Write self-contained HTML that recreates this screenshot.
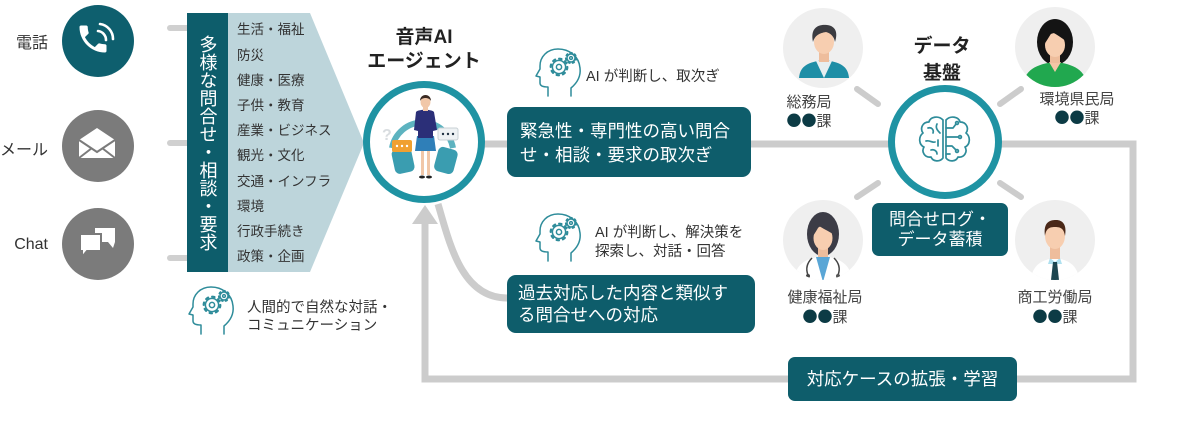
<!DOCTYPE html>
<html><head><meta charset="utf-8">
<style>
html,body{margin:0;padding:0;background:#fff;}
#c{position:relative;width:1200px;height:436px;overflow:hidden;background:#fff;font-family:"Liberation Sans","Noto Sans CJK JP",sans-serif;color:#333;}
.t{position:absolute;white-space:nowrap;}
.d{font-family:"Noto Sans CJK JP",sans-serif;color:#0c3b45;}
svg{position:absolute;left:0;top:0;}
</style></head><body>
<div id="c">
<svg width="1200" height="436" viewBox="0 0 1200 436" xmlns="http://www.w3.org/2000/svg">
<defs>
  <g id="hg" fill="none" stroke="#2e8c9a" stroke-width="1.5" stroke-linejoin="round" stroke-linecap="round">
    <path d="M36 50 L36 42 C42 37 46 30 45 22 C44 10 34 3 23 3 C12 3 5 11 5 20 L5 23 L1 30 L5 31 L5 37 C5 40 8 41 13 41 L13 50"/>
    <circle cx="24" cy="21" r="8.3" stroke-width="2.2" stroke-dasharray="2.4 4.1"/>
    <circle cx="24" cy="21" r="6.6"/>
    <circle cx="24" cy="21" r="2.6"/>
    <circle cx="36" cy="12" r="5.2" stroke-width="1.8" stroke-dasharray="1.8 2.9"/>
    <circle cx="36" cy="12" r="4"/>
    <circle cx="36" cy="12" r="1.4"/>
  </g>
  <clipPath id="a1"><circle cx="823" cy="48" r="40"/></clipPath>
  <clipPath id="a2"><circle cx="1055" cy="47" r="40"/></clipPath>
  <clipPath id="a3"><circle cx="823" cy="240" r="40"/></clipPath>
  <clipPath id="a4"><circle cx="1055" cy="240" r="40"/></clipPath>
</defs>

<!-- channel circles -->
<circle cx="98" cy="41" r="36" fill="#0e5f6e"/>
<circle cx="98" cy="146" r="36" fill="#7b7b7b"/>
<circle cx="98" cy="244" r="36" fill="#7b7b7b"/>
<!-- phone -->
<g transform="translate(75,21) scale(1.5)">
  <path fill="#fff" d="M6.62 10.790c1.44 2.83 3.76 5.14 6.59 6.59l2.2-2.2c.27-.27.67-.36 1.020-.24 1.12.37 2.33.57 3.57.57.55 0 1 .45 1 1V20c0 .55-.45 1-1 1-9.39 0-17-7.61-17-17 0-.55.45-1 1-1h3.5c.55 0 1 .45 1 1 0 1.25.2 2.45.57 3.57.11.35.03.74-.25 1.02l-2.2 2.2z"/>
</g>
<path d="M98 31 A9 9 0 0 1 106 40" fill="none" stroke="#fff" stroke-width="2.6" stroke-linecap="round"/>
<path d="M100 24 A15 15 0 0 1 113 39" fill="none" stroke="#fff" stroke-width="2.6" stroke-linecap="round"/>
<!-- envelope -->
<path d="M79 140 L97 128 L115 140 L115 158 L79 158 Z" fill="#fff"/>
<path d="M79 140 L97 152 L115 140 M79 158 L92 148 M115 158 L102 148" fill="none" stroke="#7b7b7b" stroke-width="2"/>
<!-- chat -->
<path d="M95 228 H115 V242 L113 248 L108 242 H95 Z" fill="#fff"/>
<path d="M80 234 H101 V251 H87 L82 257 L82 251 H80 Z" fill="#fff" stroke="#7b7b7b" stroke-width="2"/>

<!-- stubs -->
<g stroke="#d0d0d0" stroke-width="6" stroke-linecap="round">
  <line x1="170" y1="28" x2="190" y2="28"/>
  <line x1="170" y1="143" x2="190" y2="143"/>
  <line x1="170" y1="258" x2="190" y2="258"/>
</g>
<!-- chevron panel -->
<polygon points="228,13 310,13 364,143 310,272 228,272" fill="#bdd5db"/>
<rect x="187" y="13" width="41" height="259" fill="#0d5d6b"/>

<!-- gray connectors -->
<g fill="none" stroke="#cccccc" stroke-width="7">
  <path d="M424 144 H945"/>
  <path d="M945 144 H1133 V379 H425 V220"/>
  <path d="M438 204 C450 245 462 298 507 298"/>
</g>
<polygon points="412,224 438,224 425,205" fill="#cccccc"/>
<g stroke="#cccccc" stroke-width="6" stroke-linecap="round">
  <line x1="857" y1="89" x2="878" y2="104"/>
  <line x1="1000" y1="104" x2="1021" y2="89"/>
  <line x1="857" y1="197" x2="878" y2="183"/>
  <line x1="1000" y1="183" x2="1021" y2="197"/>
</g>

<!-- agent circle -->
<circle cx="424" cy="142" r="57.5" fill="#fff" stroke="#1f93a3" stroke-width="7"/>
<path d="M392 148 A31 31 0 0 1 453 148" fill="none" stroke="#5db3c0" stroke-width="6"/>
<text x="382" y="140" font-family="Liberation Sans, sans-serif" font-size="16" font-weight="bold" fill="#d9dde0">?</text>
<rect x="393" y="148" width="20" height="25" rx="5" fill="#3a9db0" transform="rotate(-12 403 160)"/>
<rect x="436" y="148" width="20" height="25" rx="5" fill="#3a9db0" transform="rotate(15 446 160)"/>
<rect x="392" y="140" width="20" height="12" rx="2" fill="#f0a030"/>
<circle cx="397" cy="146" r="1.2" fill="#fff"/><circle cx="402" cy="146" r="1.2" fill="#fff"/><circle cx="407" cy="146" r="1.2" fill="#fff"/>
<rect x="438" y="128" width="20" height="12" rx="2" fill="#eef2f4" stroke="#c8d0d4" stroke-width="1"/>
<circle cx="443" cy="134" r="1.2" fill="#234"/><circle cx="448" cy="134" r="1.2" fill="#234"/><circle cx="453" cy="134" r="1.2" fill="#234"/>
<!-- woman -->
<rect x="421" y="148" width="3" height="27" fill="#f1c7a8"/>
<rect x="427" y="148" width="3" height="27" fill="#f1c7a8"/>
<ellipse cx="422" cy="177" rx="3" ry="1.5" fill="#222"/>
<ellipse cx="429" cy="177" rx="3" ry="1.5" fill="#222"/>
<path d="M417 136 L434 136 L436 151 L415 151 Z" fill="#2f7fb8"/>
<path d="M416 112 C418 109 432 109 434 112 L437 130 L433 131 L433 138 L418 138 L418 131 L414 130 Z" fill="#2b2f78"/>
<rect x="423" y="106" width="5" height="5" fill="#f1c7a8"/>
<ellipse cx="425.5" cy="102" rx="5" ry="6" fill="#f1c7a8"/>
<path d="M420 101 C420 93 431 93 431 101 C429 97 422 97 420 101 Z" fill="#3a2a22"/>

<!-- data circle -->
<circle cx="945" cy="142" r="53.5" fill="#fff" stroke="#1f93a3" stroke-width="7"/>
<g fill="none" stroke="#2e8c9a" stroke-width="1.7" stroke-linecap="round" stroke-linejoin="round">
  <path d="M943 120 C938 115 930 117 929 122 C922 122 920 129 923 133 C918 137 919 145 924 147 C921 152 925 158 931 157 C933 162 940 162 943 158 Z"/>
  <path d="M946 120 C951 115 959 117 960 122 C967 122 969 129 966 133 C971 137 970 145 965 147 C968 152 964 158 958 157 C956 162 949 162 946 158 Z"/>
  <path d="M928 128 C932 127 934 130 933 133 M926 141 C930 140 932 143 935 142 M931 150 C934 149 937 151 937 154 M937 124 C935 128 938 131 940 133 M938 140 L938 146"/>
  <path d="M946 128 H953 L956 124 M946 137 H958 M946 146 H952 L956 150 M946 154 H950"/>
  <circle cx="957" cy="123" r="1.4"/><circle cx="960" cy="137" r="1.4"/><circle cx="957" cy="151" r="1.4"/>
</g>

<!-- avatars -->
<circle cx="823" cy="48" r="40" fill="#efefef"/>
<g clip-path="url(#a1)">
  <path d="M799 78 C800 66 808 62 824 60 C840 62 848 66 849 78 Z" fill="#1e8ea6"/>
  <path d="M816 61 L824 78 L832 61 Z" fill="#e6eef0"/>
  <rect x="819" y="50" width="10" height="12" fill="#eebd9c"/>
  <ellipse cx="824" cy="42" rx="10" ry="12" fill="#f7ceb0"/>
  <path d="M813 42 C810 28 818 24 827 25 C836 26 838 33 835 42 C834 36 830 33 826 32 C820 33 815 35 813 42 Z" fill="#3b3b40"/>
</g>
<circle cx="1055" cy="47" r="40" fill="#efefef"/>
<g clip-path="url(#a2)">
  <ellipse cx="1055" cy="42" rx="18" ry="23" fill="#141414"/>
  <path d="M1022 88 C1024 70 1036 64 1055 62 C1074 64 1086 70 1088 88 Z" fill="#21a84f"/>
  <path d="M1049 62 L1055 72 L1061 62 Z" fill="#f4c6a6"/>
  <rect x="1050" y="52" width="10" height="11" fill="#eebd9c"/>
  <ellipse cx="1055" cy="45" rx="10" ry="12" fill="#f7ceb0"/>
  <path d="M1043 46 C1042 30 1050 26 1057 27 C1066 28 1068 36 1067 42 C1062 38 1056 34 1052 32 C1049 37 1046 42 1043 46 Z" fill="#141414"/>
</g>
<circle cx="823" cy="240" r="40" fill="#efefef"/>
<g clip-path="url(#a3)">
  <ellipse cx="823" cy="234" rx="16" ry="22" fill="#3c3c46"/>
  <path d="M793 285 C794 264 806 258 823 256 C840 258 852 264 853 285 Z" fill="#ffffff"/>
  <path d="M816 257 L823 282 L830 257 Z" fill="#5aa6d6"/>
  <rect x="818" y="245" width="10" height="12" fill="#eebd9c"/>
  <ellipse cx="823" cy="238" rx="9.5" ry="12" fill="#f7ceb0"/>
  <path d="M813 236 C812 224 818 220 825 221 C832 222 834 228 833 234 C828 231 822 228 819 226 C817 230 815 233 813 236 Z" fill="#3c3c46"/>
  <path d="M812 258 C806 264 806 270 808 275 M834 258 C840 264 840 270 838 275" fill="none" stroke="#444" stroke-width="1.5"/>
  <circle cx="808" cy="276" r="2" fill="#444"/><circle cx="838" cy="276" r="2" fill="#555"/>
</g>
<circle cx="1055" cy="240" r="40" fill="#efefef"/>
<g clip-path="url(#a4)">
  <path d="M1030 285 C1031 266 1040 260 1055 258 C1070 260 1079 266 1080 285 Z" fill="#ffffff"/>
  <path d="M1050 258 L1055 262 L1060 258 L1062 264 L1048 264 Z" fill="#aee0ef"/>
  <path d="M1053 262 L1057 262 L1059 280 L1055 284 L1051 280 Z" fill="#1d4650"/>
  <rect x="1050" y="245" width="10" height="14" fill="#eebd9c"/>
  <ellipse cx="1055" cy="236" rx="10" ry="13" fill="#f7ceb0"/>
  <path d="M1045 236 C1043 222 1050 220 1056 220 C1063 220 1067 225 1065 236 C1064 229 1061 227 1055 227 C1049 227 1046 229 1045 236 Z" fill="#4a2818"/>
</g>

<!-- boxes -->
<rect x="507" y="107" width="244" height="70" rx="9" fill="#0e5d6b"/>
<rect x="507" y="275" width="248" height="58" rx="9" fill="#0e5d6b"/>
<rect x="872" y="203" width="136" height="53" rx="7" fill="#0e5d6b"/>
<rect x="788" y="357" width="229" height="44" rx="7" fill="#0e5d6b"/>

<!-- head-gear icons -->
<use href="#hg" x="535" y="46"/>
<use href="#hg" x="535" y="211"/>
<use href="#hg" x="188" y="284"/>
</svg>

<!-- left labels -->
<div class="t" style="left:-2px;width:50px;text-align:right;top:34px;font-size:16px;line-height:20px;color:#333;">電話</div>
<div class="t" style="left:-2px;width:50px;text-align:right;top:141px;font-size:16px;line-height:20px;color:#333;">メール</div>
<div class="t" style="left:-2px;width:50px;text-align:right;top:235px;font-size:16px;line-height:20px;color:#333;">Chat</div>

<div class="t" style="left:187px;top:13px;width:41px;height:259px;display:flex;align-items:center;justify-content:center;">
  <div style="writing-mode:vertical-rl;font-size:18px;line-height:22px;color:#fff;">多様な問合せ・相談・要求</div>
</div>
<div class="t" style="left:237px;top:17.4px;font-size:13.5px;line-height:25.2px;color:#333;">生活・福祉<br>防災<br>健康・医療<br>子供・教育<br>産業・ビジネス<br>観光・文化<br>交通・インフラ<br>環境<br>行政手続き<br>政策・企画</div>

<div class="t" style="left:354px;width:140px;text-align:center;top:26px;font-size:19px;line-height:24px;font-weight:bold;color:#222;">音声AI<br>エージェント</div>

<div class="t" style="left:586px;top:67px;font-size:14.5px;line-height:20px;color:#333;">AI が判断し、取次ぎ</div>
<div class="t" style="left:520px;top:119px;font-size:17.5px;line-height:24px;color:#fff;">緊急性・専門性の高い問合<br>せ・相談・要求の取次ぎ</div>

<div class="t" style="left:595px;top:223.5px;font-size:14.5px;line-height:19px;color:#333;">AI が判断し、解決策を<br>探索し、対話・回答</div>
<div class="t" style="left:518px;top:283px;font-size:17.5px;line-height:21.5px;color:#fff;">過去対応した内容と類似す<br>る問合せへの対応</div>

<div class="t" style="left:247px;top:299px;font-size:14.5px;line-height:18px;color:#333;">人間的で自然な対話・<br>コミュニケーション</div>

<div class="t" style="left:882px;width:120px;text-align:center;top:32.5px;font-size:19px;line-height:27px;font-weight:bold;color:#222;">データ<br>基盤</div>

<div class="t" style="left:769px;width:80px;text-align:center;top:94px;font-size:15px;line-height:18px;color:#444;">総務局<br><span class="d">●●</span>課</div>
<div class="t" style="left:1027px;width:100px;text-align:center;top:91px;font-size:15px;line-height:18px;color:#444;">環境県民局<br><span class="d">●●</span>課</div>
<div class="t" style="left:775px;width:100px;text-align:center;top:287.5px;font-size:15px;line-height:19px;color:#444;">健康福祉局<br><span class="d">●●</span>課</div>
<div class="t" style="left:1005px;width:100px;text-align:center;top:287.5px;font-size:15px;line-height:19px;color:#444;">商工労働局<br><span class="d">●●</span>課</div>

<div class="t" style="left:872px;width:136px;text-align:center;top:210px;font-size:17px;line-height:20px;color:#fff;">問合せログ・<br>データ蓄積</div>
<div class="t" style="left:788px;width:229px;text-align:center;top:368px;font-size:17.5px;line-height:22px;color:#fff;">対応ケースの拡張・学習</div>
</div>
</body></html>
